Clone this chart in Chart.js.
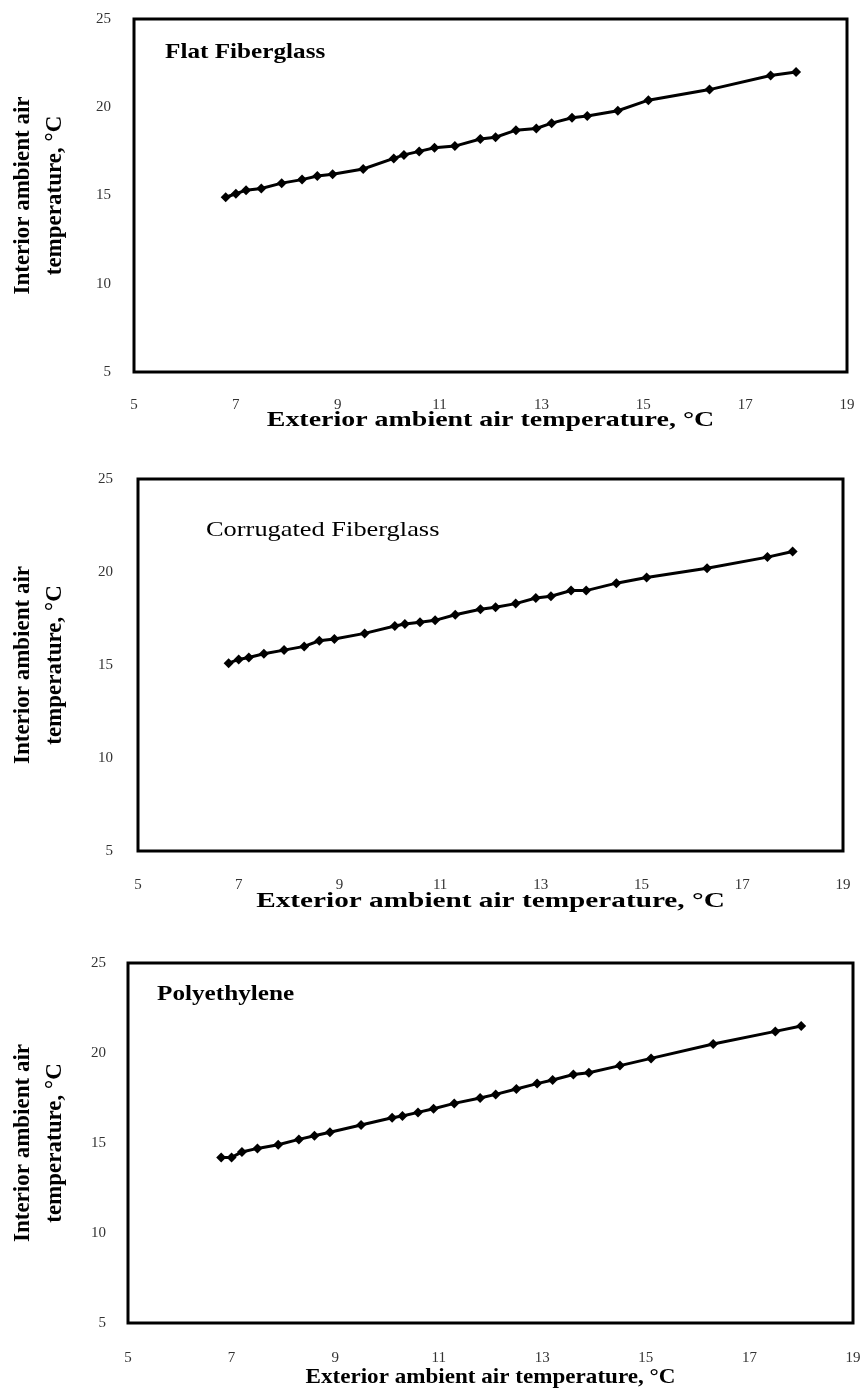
<!DOCTYPE html>
<html>
<head>
<meta charset="utf-8">
<script src="https://cdn.jsdelivr.net/npm/chart.js@4.4.1/dist/chart.umd.min.js"></script>
<style>
  body { margin: 0; background: #fff; }
  .panel { position: absolute; left: 0; width: 862px; }
</style>
</head>
<body>
<div class="panel" style="top:0px"><canvas id="flatChart" width="862" height="460"></canvas></div>
<div class="panel" style="top:460px"><canvas id="corrChart" width="862" height="460"></canvas></div>
<div class="panel" style="top:920px"><canvas id="polyChart" width="862" height="470"></canvas></div>
<script>
// Exterior ambient air temperature (same readings for all three covers)
const exteriorTemp = [6.8, 7.0, 7.2, 7.5, 7.9, 8.3, 8.6, 8.9, 9.5, 10.1, 10.3, 10.6, 10.9,
                      11.3, 11.8, 12.1, 12.5, 12.9, 13.2, 13.6, 13.9, 14.5, 15.1, 16.3, 17.5, 18.0];

// Interior ambient air temperature for each cover
const flatFiberglass = [14.9, 15.1, 15.3, 15.4, 15.7, 15.9, 16.1, 16.2, 16.5, 17.1, 17.3, 17.5, 17.7,
                        17.8, 18.2, 18.3, 18.7, 18.8, 19.1, 19.4, 19.5, 19.8, 20.4, 21.0, 21.8, 22.0];
const corrugatedFiberglass = [15.1, 15.3, 15.4, 15.6, 15.8, 16.0, 16.3, 16.4, 16.7, 17.1, 17.2, 17.3, 17.4,
                              17.7, 18.0, 18.1, 18.3, 18.6, 18.7, 19.0, 19.0, 19.4, 19.7, 20.2, 20.8, 21.1];
const polyethylene = [14.2, 14.2, 14.5, 14.7, 14.9, 15.2, 15.4, 15.6, 16.0, 16.4, 16.5, 16.7, 16.9,
                      17.2, 17.5, 17.7, 18.0, 18.3, 18.5, 18.8, 18.9, 19.3, 19.7, 20.5, 21.2, 21.5];

// Axis ranges / ticks
const xRange = [5, 19], xStep = 2;
const yRange = [5, 25], yStep = 5;

const serif = "'Liberation Serif', 'Times New Roman', serif";

// Draws the closed box around the plot area
const frameBox = {
    id: 'frameBox',
    afterDraw(chart) {
        const { ctx, chartArea: a } = chart;
        ctx.save();
        ctx.strokeStyle = '#000';
        ctx.lineWidth = 3;
        ctx.strokeRect(a.left, a.top, a.right - a.left, a.bottom - a.top);
        ctx.restore();
    }
};

// Material name inside the plot + x axis title (the scan's lettering is stretched sideways)
function wideText(ctx, text, font, x, y, sx, align) {
    ctx.save();
    ctx.font = font;
    ctx.textAlign = align;
    ctx.textBaseline = 'middle';
    ctx.fillStyle = '#000';
    ctx.translate(x, y);
    ctx.scale(sx, 1);
    ctx.fillText(text, 0, 0);
    ctx.restore();
}

const panelText = {
    id: 'panelText',
    afterDraw(chart, args, o) {
        const a = chart.chartArea;
        wideText(chart.ctx, o.label, o.labelFont, a.left + o.labelDx, a.top + o.labelDy, o.labelStretch, 'left');
        wideText(chart.ctx, o.title, o.titleFont, (a.left + a.right) / 2, a.bottom + o.titleDy, o.titleStretch, 'center');
    }
};

function makeChart(id, values, cfg) {
    const points = exteriorTemp.map((x, i) => ({ x: x, y: values[i] }));
    new Chart(document.getElementById(id), {
        type: 'scatter',
        data: {
            datasets: [{
                data: points,
                showLine: true,
                borderColor: '#000',
                borderWidth: 3,
                backgroundColor: '#000',
                pointStyle: 'rectRot',
                pointRadius: 5,
                pointBorderWidth: 0,
                tension: 0
            }]
        },
        options: {
            responsive: false,
            animation: false,
            layout: { padding: cfg.padding },
            plugins: {
                legend: { display: false },
                tooltip: { enabled: false },
                panelText: cfg.text
            },
            scales: {
                x: {
                    type: 'linear',
                    min: xRange[0], max: xRange[1],
                    grid: { display: false },
                    border: { display: false },
                    ticks: { stepSize: xStep, padding: cfg.xPad, color: '#333',
                             font: { family: serif, size: 15 } },
                    title: { display: false },
                    afterFit(scale) {
                        scale.height = cfg.xHeight;
                        scale.paddingLeft = 0;
                        scale.paddingRight = 0;
                    }
                },
                y: {
                    min: yRange[0], max: yRange[1],
                    grid: { display: false },
                    border: { display: false },
                    ticks: { stepSize: yStep, padding: cfg.yPad, color: '#333',
                             font: { family: serif, size: 15 } },
                    title: {
                        display: true,
                        text: ['Interior ambient air', 'temperature, °C'],
                        color: '#000',
                        font: { family: serif, size: 23, weight: 'bold', lineHeight: 1.4 },
                        padding: { top: 7, bottom: 0 }
                    },
                    afterFit(scale) {
                        scale.width = cfg.yWidth;
                        scale.paddingTop = 0;
                        scale.paddingBottom = 0;
                    }
                }
            }
        },
        plugins: [frameBox, panelText]
    });
}

const xTitle = 'Exterior ambient air temperature, °C';

makeChart('flatChart', flatFiberglass, {
    padding: { left: 0, right: 15, top: 19, bottom: 25 },
    yWidth: 134, xHeight: 63, xPad: 16, yPad: 15,
    text: { label: 'Flat Fiberglass', labelFont: 'bold 21px ' + serif, labelDx: 31, labelDy: 34, labelStretch: 1.2,
            title: xTitle, titleFont: 'bold 22px ' + serif, titleDy: 48, titleStretch: 1.27 }
});

makeChart('corrChart', corrugatedFiberglass, {
    padding: { left: 0, right: 19, top: 19, bottom: 7 },
    yWidth: 138, xHeight: 62, xPad: 17, yPad: 17,
    text: { label: 'Corrugated Fiberglass', labelFont: '22px ' + serif, labelDx: 68, labelDy: 51, labelStretch: 1.2,
            title: xTitle, titleFont: 'bold 22px ' + serif, titleDy: 50, titleStretch: 1.33 }
});

makeChart('polyChart', polyethylene, {
    padding: { left: 0, right: 9, top: 43, bottom: 0 },
    yWidth: 128, xHeight: 67, xPad: 18, yPad: 14,
    text: { label: 'Polyethylene', labelFont: 'bold 21px ' + serif, labelDx: 29, labelDy: 32, labelStretch: 1.2,
            title: xTitle, titleFont: 'bold 21px ' + serif, titleDy: 55, titleStretch: 1.1 }
});
</script>
</body>
</html>
